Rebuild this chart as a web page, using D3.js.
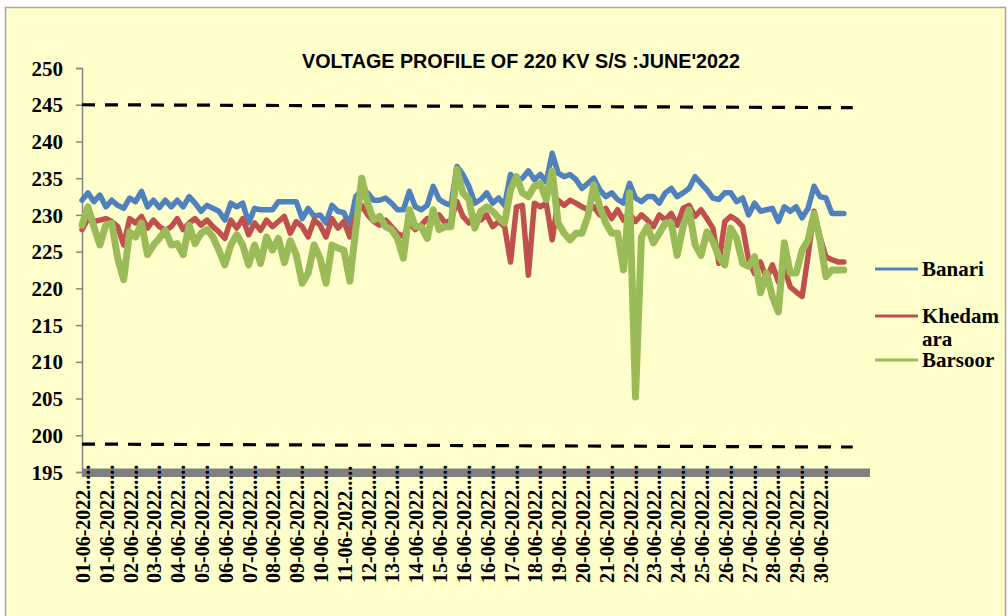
<!DOCTYPE html>
<html>
<head>
<meta charset="utf-8">
<script src="https://cdn.jsdelivr.net/npm/d3@7"></script>
<style>
  body { margin: 0; background: #fff; }
  svg { display: block; }
  .ylab text { font-family: 'Liberation Serif', 'Times New Roman', serif; font-weight: bold; font-size: 21px; fill: #000; }
  .xlab { font-family: 'Liberation Serif', 'Times New Roman', serif; font-weight: bold; font-size: 20px; fill: #000; }
  .legend { font-family: 'Liberation Serif', 'Times New Roman', serif; font-weight: bold; font-size: 21px; fill: #000; }
  .title { font-family: 'Liberation Sans', Arial, sans-serif; font-weight: bold; font-size: 20px; fill: #000; }
</style>
</head>
<body>
<script>
// Voltage profile of 220 KV substations, June 2022 (~6 h steps)

var xLabels = ['01-06-2022', '01-06-2022', '02-06-2022', '03-06-2022', '04-06-2022', '05-06-2022',
    '06-06-2022', '07-06-2022', '08-06-2022', '09-06-2022', '10-06-2022', '11-06-2022',
    '12-06-2022', '13-06-2022', '14-06-2022', '15-06-2022', '16-06-2022', '16-06-2022',
    '17-06-2022', '18-06-2022', '19-06-2022', '20-06-2022', '21-06-2022', '22-06-2022',
    '23-06-2022', '24-06-2022', '25-06-2022', '26-06-2022', '27-06-2022', '28-06-2022',
    '29-06-2022', '30-06-2022'];

var yTicks = [195, 200, 205, 210, 215, 220, 225, 230, 235, 240, 245, 250];

var banari = [
    232.0, 233.0, 231.8, 232.7, 231.1, 232.0, 231.3, 230.9, 232.3, 231.8,
    233.2, 231.1, 232.0, 231.0, 232.0, 231.1, 232.0, 231.1, 232.5, 231.6,
    230.5, 231.3, 230.9, 230.5, 229.3, 231.6, 231.1, 231.6, 228.9, 230.9,
    230.7, 230.7, 230.7, 231.8, 231.8, 231.8, 231.8, 229.5, 230.9, 229.8,
    230.0, 228.9, 231.3, 230.5, 230.3, 228.6, 232.5, 233.4, 233.0, 232.0,
    232.0, 232.3, 231.6, 230.7, 230.7, 233.2, 231.1, 230.7, 231.3, 233.9,
    232.1, 231.6, 231.3, 236.6, 235.5, 233.9, 231.6, 232.1, 233.0, 231.6,
    232.3, 231.3, 235.5, 234.5, 235.0, 236.0, 234.8, 235.5, 234.5, 238.4,
    235.7, 235.2, 235.5, 234.8, 233.6, 234.3, 235.0, 233.4, 232.5, 233.0,
    232.1, 231.6, 234.3, 232.3, 231.8, 232.5, 232.5, 231.6, 233.0, 233.6,
    232.5, 233.0, 233.6, 235.2, 234.3, 233.4, 232.3, 232.1, 233.0, 233.0,
    231.8, 232.3, 230.0, 231.6, 230.5, 230.7, 230.9, 229.1, 231.1, 230.5,
    231.1, 229.6, 230.9, 233.9, 232.5, 232.3, 230.2, 230.2, 230.2];

var khedamara = [
    228.0, 229.5, 229.1, 229.3, 229.5, 229.1, 228.4, 225.9, 229.5, 228.9,
    229.8, 228.2, 229.3, 228.4, 227.9, 228.4, 229.5, 228.0, 228.9, 229.5,
    228.6, 229.3, 228.4, 227.7, 226.8, 229.3, 228.2, 229.5, 227.3, 228.9,
    227.9, 229.3, 228.4, 229.1, 229.8, 227.5, 229.1, 228.4, 227.0, 229.3,
    228.6, 227.0, 229.5, 228.2, 229.1, 227.0, 230.0, 231.3, 230.0, 229.1,
    228.6, 229.3, 228.4, 227.5, 227.0, 228.9, 228.0, 228.6, 229.5, 229.1,
    230.0, 228.9, 229.3, 231.8, 229.8, 228.9, 229.8, 229.3, 230.0, 228.4,
    229.1, 228.4, 223.6, 231.1, 231.3, 221.8, 231.6, 231.1, 231.6, 226.6,
    232.0, 231.3, 232.0, 231.6, 231.1, 230.7, 231.1, 230.0, 230.9, 229.5,
    230.7, 229.3, 230.2, 229.1, 230.0, 229.3, 228.4, 230.0, 229.3, 230.2,
    228.6, 230.9, 231.3, 229.8, 230.7, 229.5, 228.2, 223.4, 229.1, 229.8,
    229.3, 228.4, 223.9, 222.0, 223.6, 221.3, 223.2, 220.9, 222.7, 220.2,
    219.5, 218.9, 224.5, 230.5, 227.0, 224.3, 223.9, 223.6, 223.6];

var barsoor = [
    228.6, 231.1, 228.4, 225.9, 228.6, 228.9, 224.1, 221.2, 227.7, 227.0,
    228.9, 224.6, 225.9, 226.8, 227.9, 225.9, 226.1, 224.6, 228.6, 226.1,
    227.5, 228.0, 227.0, 225.2, 223.2, 225.9, 227.3, 225.9, 223.2, 225.9,
    223.4, 227.0, 225.2, 226.8, 223.5, 226.5, 224.6, 220.7, 222.1, 225.9,
    224.1, 220.7, 225.9, 225.5, 225.2, 221.0, 228.0, 235.0, 231.6, 229.3,
    229.8, 228.4, 228.0, 226.8, 224.1, 230.7, 228.4, 228.4, 226.8, 230.7,
    228.0, 228.4, 228.4, 236.2, 233.0, 232.1, 228.2, 230.5, 231.1, 230.5,
    229.6, 228.9, 233.4, 235.2, 233.0, 232.5, 233.9, 234.3, 232.1, 236.0,
    228.9, 227.5, 226.6, 227.5, 227.5, 229.8, 234.1, 231.1, 228.9, 227.5,
    227.5, 222.5, 233.0, 205.2, 227.0, 228.4, 226.2, 227.5, 228.9, 228.9,
    224.5, 228.4, 230.7, 226.0, 224.5, 227.7, 226.4, 224.3, 223.2, 228.2,
    226.8, 223.4, 223.0, 224.3, 219.4, 222.1, 218.9, 216.8, 226.2, 222.1,
    222.1, 225.2, 226.6, 230.2, 226.6, 221.6, 222.5, 222.5, 222.5];

// permissible limits, drawn as dashed lines across the plot
var upperLimit = [245.0, 244.6];
var lowerLimit = [198.8, 198.4];
var limitIdx = [0, 129.5];

var seriesNames = ['Banari', 'Khedamara', 'Barsoor'];
var seriesColors = ['#4F81BD', '#C0504D', '#9BBB59'];
var seriesWidths = [5.5, 5.5, 7];

var width = 1008,
    height = 616,
    perLabel = 4;   // data points between two date labels

var svg = d3.select('body').append('svg')
    .attr('width', width)
    .attr('height', height);

svg.append('rect')
    .attr('x', 5.5)
    .attr('y', 7.5)
    .attr('width', 1000)
    .attr('height', 640)
    .attr('fill', '#FFFFCC')
    .attr('stroke', '#A6A6A6')
    .attr('stroke-width', 1.5);

var x = d3.scaleLinear().domain([0, 132.4]).range([82, 870]);
var y = d3.scaleLinear().domain([195, 250]).range([472, 68]);

svg.append('text')
    .classed('title', true)
    .attr('x', 302)
    .attr('y', 68)
    .attr('textLength', 438)
    .attr('lengthAdjust', 'spacingAndGlyphs')
    .text("VOLTAGE PROFILE OF 220 KV S/S :JUNE'2022");

// y axis
var yAxis = svg.append('g')
    .classed('ylab', true)
    .attr('transform', 'translate(' + x(0) + ',0)')
    .call(d3.axisLeft(y).tickValues(yTicks).tickSize(6).tickPadding(13));
yAxis.selectAll('path, line').attr('stroke', '#868686').attr('stroke-width', 1.5);
yAxis.selectAll('text').attr('font-family', null).attr('font-size', null).attr('dy', '0.34em');

// thick grey category axis
svg.append('rect')
    .attr('x', x(0))
    .attr('y', y(195) - 3.5)
    .attr('width', x(132.4) - x(0))
    .attr('height', 8.5)
    .attr('fill', '#808080');

// limit lines
[upperLimit, lowerLimit].forEach(function(lim) {
    svg.append('path')
        .datum(lim)
        .attr('fill', 'none')
        .attr('stroke', '#000')
        .attr('stroke-width', 3.2)
        .attr('stroke-dasharray', '13,10')
        .attr('d', d3.line()
            .x(function(d, i) { return x(limitIdx[i]); })
            .y(function(d) { return y(d); }));
});

// series lines
var line = d3.line()
    .x(function(d, i) { return x(i); })
    .y(function(d) { return y(d); });

[banari, khedamara, barsoor].forEach(function(s, k) {
    svg.append('path')
        .datum(s)
        .attr('fill', 'none')
        .attr('stroke', seriesColors[k])
        .attr('stroke-width', seriesWidths[k])
        .attr('stroke-linejoin', 'round')
        .attr('stroke-linecap', 'round')
        .attr('d', line);
});

// date labels, rotated
svg.append('g').selectAll('text')
    .data(xLabels)
    .enter()
    .append('text')
    .classed('xlab', true)
    .attr('transform', function(d, i) {
        return 'translate(' + (x(i * perLabel) + 8) + ',583) rotate(-90)';
    })
    .text(function(d) { return d + '.....'; });

// legend
var legY = [269, 316, 360];
var leg = svg.append('g');
seriesNames.forEach(function(name, k) {
    leg.append('line')
        .attr('x1', 875).attr('x2', 918)
        .attr('y1', legY[k]).attr('y2', legY[k])
        .attr('stroke', seriesColors[k])
        .attr('stroke-width', 3);
    var t = leg.append('text')
        .classed('legend', true)
        .attr('x', 922)
        .attr('y', legY[k] + 7);
    if (name == 'Khedamara') {
        t.append('tspan').text('Khedam');
        t.append('tspan').attr('x', 922).attr('dy', 23).text('ara');
    } else {
        t.text(name);
    }
});
</script>
</body>
</html>
